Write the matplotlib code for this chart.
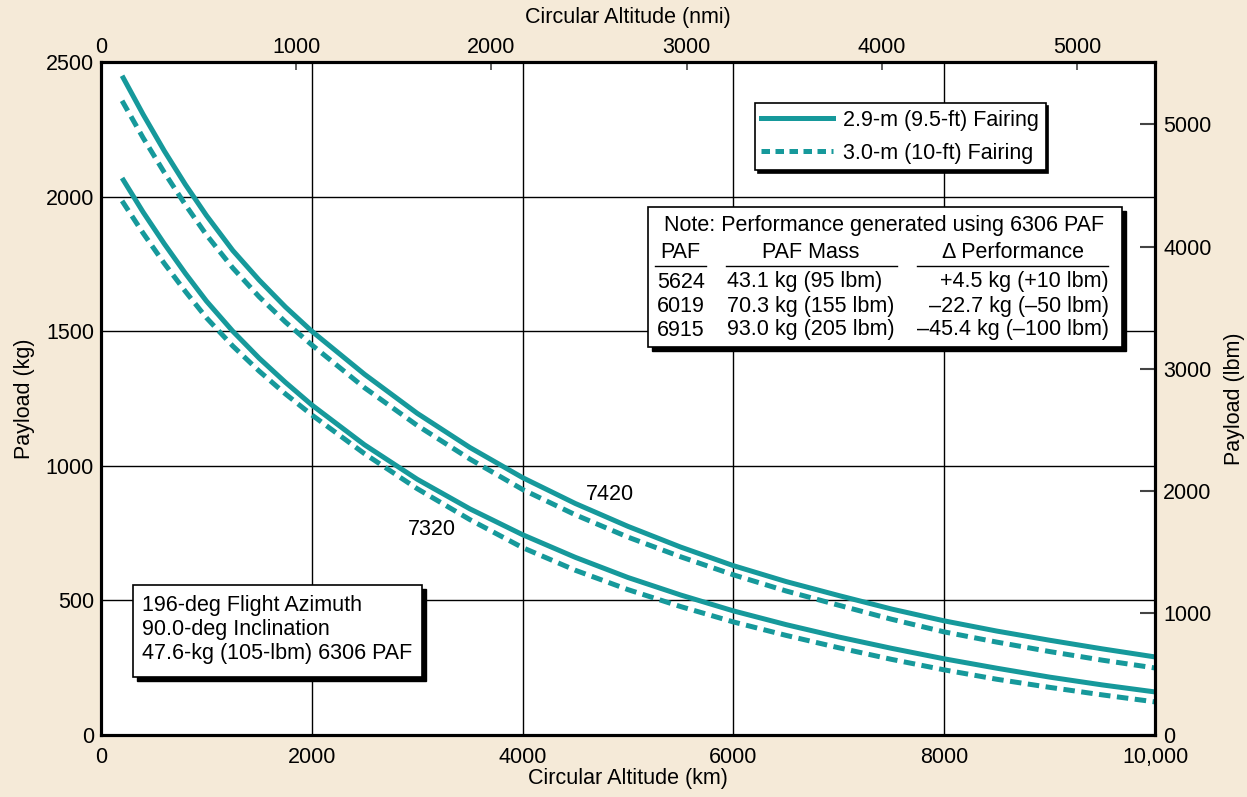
import numpy as np
import matplotlib
matplotlib.use('Agg')
import matplotlib.pyplot as plt
from matplotlib.patches import Rectangle
from matplotlib.lines import Line2D

plt.rcParams['font.family'] = ['Liberation Sans', 'DejaVu Sans']

# circular altitude (km) and payload (kg)
alt_km = [200, 400, 600, 800, 1000, 1250, 1500, 1750, 2000, 2500, 3000, 3500, 4000,
          4500, 5000, 5500, 6000, 6500, 7000, 7500, 8000, 8500, 9000, 9500, 10000]
p7420_29 = [2449, 2305, 2170, 2045, 1930, 1800, 1690, 1590, 1500, 1340, 1195, 1068, 956,
            860, 775, 698, 629, 570, 518, 468, 424, 386, 352, 320, 290]
p7420_30 = [2356, 2218, 2090, 1970, 1858, 1735, 1628, 1534, 1449, 1290, 1150, 1025, 912,
            818, 735, 662, 595, 535, 482, 430, 383, 345, 310, 278, 249]
p7320_29 = [2069, 1942, 1825, 1715, 1612, 1500, 1400, 1310, 1226, 1078, 950, 840, 744,
            660, 585, 520, 461, 410, 364, 322, 283, 248, 215, 186, 160]
p7320_30 = [1984, 1864, 1752, 1648, 1550, 1445, 1352, 1267, 1189, 1045, 915, 800, 696,
            612, 540, 477, 420, 370, 324, 281, 242, 207, 177, 149, 123]

km_ticks = [0, 2000, 4000, 6000, 8000, 10000]
km_labels = ['0', '2000', '4000', '6000', '8000', '10,000']
kg_ticks = [0, 500, 1000, 1500, 2000, 2500]
nmi_ticks = [0, 1000, 2000, 3000, 4000, 5000]
lbm_ticks = [0, 1000, 2000, 3000, 4000, 5000]

legend_labels = ['2.9-m (9.5-ft) Fairing', '3.0-m (10-ft) Fairing']
curve_labels = ['7420', '7320']
label_pos = [(4830, 893), (3140, 763)]

note_title = 'Note: Performance generated using 6306 PAF'
paf_ids = ['5624', '6019', '6915']
paf_mass = ['43.1 kg (95 lbm)', '70.3 kg (155 lbm)', '93.0 kg (205 lbm)']
paf_delta = ['+4.5 kg (+10 lbm)', '\u201322.7 kg (\u201350 lbm)', '\u201345.4 kg (\u2013100 lbm)']
mission_lines = ['196-deg Flight Azimuth', '90.0-deg Inclination', '47.6-kg (105-lbm) 6306 PAF']

teal = '#16999B'
bg = '#F5EAD8'
fs = 15.5

fig = plt.figure(figsize=(12.47, 7.97), dpi=100, facecolor=bg)
ax = fig.add_axes([101/1247, 1-735/797, 1054/1247, 673/797])
ax.set_facecolor('white')

ax.set_xlim(0, 10000)
ax.set_ylim(0, 2500)
ax.set_xticks(km_ticks)
ax.set_xticklabels(km_labels)
ax.set_yticks(kg_ticks)
ax.tick_params(axis='both', length=0, labelsize=fs)
ax.tick_params(axis='x', pad=8.5)
ax.tick_params(axis='y', pad=5)
ax.grid(True, color='black', lw=1.0)
ax.set_axisbelow(True)
for s in ax.spines.values():
    s.set_linewidth(2.2)
ax.set_xlabel('Circular Altitude (km)', fontsize=fs, labelpad=0)
ax.set_ylabel('Payload (kg)', fontsize=fs, labelpad=8)

dash = (2.3, 1.3)
ax.plot(alt_km, p7420_29, color=teal, lw=3.6, solid_capstyle='butt')
ax.plot(alt_km, p7420_30, color=teal, lw=3.6, dashes=dash)
ax.plot(alt_km, p7320_29, color=teal, lw=3.6, solid_capstyle='butt')
ax.plot(alt_km, p7320_30, color=teal, lw=3.6, dashes=dash)

for lab, (x, y) in zip(curve_labels, label_pos):
    ax.text(x, y, lab, fontsize=fs, ha='center', va='center')

# top axis in nmi
axt = ax.twiny()
axt.set_xlim(0, 10000/1.852)
axt.set_xticks(nmi_ticks)
axt.tick_params(axis='x', direction='in', length=6, width=1.2, color='#444444',
                labelsize=fs, pad=3)
axt.set_xlabel('Circular Altitude (nmi)', fontsize=fs, labelpad=10)
for s in axt.spines.values():
    s.set_linewidth(2.2)

# right axis in lbm
axr = ax.twinx()
axr.set_ylim(0, 2500*2.20462)
axr.set_yticks(lbm_ticks)
axr.tick_params(axis='y', direction='in', length=11, width=1.5, color='#444444',
                labelsize=fs, pad=6)
axr.set_ylabel('Payload (lbm)', fontsize=fs, labelpad=9)
for s in axr.spines.values():
    s.set_linewidth(2.2)

# legend
handles = [Line2D([], [], color=teal, lw=3.6),
           Line2D([], [], color=teal, lw=3.6, dashes=(1.7, 1.1))]
leg = ax.legend(handles, legend_labels, loc='upper left', bbox_to_anchor=(0.6205, 0.939),
                borderaxespad=0, fontsize=fs, frameon=True, fancybox=False,
                handlelength=3.3, handletextpad=0.5, labelspacing=0.58, borderpad=0.3,
                shadow={'color': 'black', 'alpha': 1})
leg.get_frame().set_edgecolor('black')
leg.get_frame().set_linewidth(1.2)
leg.set_zorder(10)


def px(x, y):
    return (x - 101) / 1054, (735 - y) / 673


def shadow_box(x0, y0, x1, y1):
    a0 = px(x0, y1)
    a1 = px(x1, y0)
    w, h = a1[0] - a0[0], a1[1] - a0[1]
    sx, sy = 4 / 1054, 4 / 673
    ax.add_patch(Rectangle((a0[0] + sx, a0[1] - sy), w, h, transform=ax.transAxes,
                           facecolor='black', edgecolor='black', zorder=8))
    ax.add_patch(Rectangle(a0, w, h, transform=ax.transAxes,
                           facecolor='white', edgecolor='black', lw=1.2, zorder=9))


# PAF note box
shadow_box(648, 207, 1122, 347)
ax.text(*px(884, 226), note_title, transform=ax.transAxes, fontsize=fs,
        ha='center', va='center', zorder=11)
ax.text(*px(680, 252), 'PAF', transform=ax.transAxes, fontsize=fs,
        ha='center', va='center', zorder=11)
ax.text(*px(811, 252), 'PAF Mass', transform=ax.transAxes, fontsize=fs,
        ha='center', va='center', zorder=11)
ax.text(*px(1013, 252), '\u0394 Performance', transform=ax.transAxes, fontsize=fs,
        ha='center', va='center', zorder=11)
for xa, xb in [(655, 706), (726, 897), (917, 1108)]:
    p0, p1 = px(xa, 266), px(xb, 266)
    ax.plot([p0[0], p1[0]], [p0[1], p1[1]], transform=ax.transAxes, color='black',
            lw=1.0, zorder=11)
for i, (pid, m, d) in enumerate(zip(paf_ids, paf_mass, paf_delta)):
    yy = 282 + 24 * i
    ax.text(*px(657, yy), pid, transform=ax.transAxes, fontsize=fs,
            ha='left', va='center', zorder=11)
    ax.text(*px(727, yy), m, transform=ax.transAxes, fontsize=fs,
            ha='left', va='center', zorder=11)
    ax.text(*px(1109, yy), d, transform=ax.transAxes, fontsize=fs,
            ha='right', va='center', zorder=11)

# mission box
shadow_box(133, 585, 422, 677)
for i, line in enumerate(mission_lines):
    ax.text(*px(142, 606 + 24 * i), line, transform=ax.transAxes, fontsize=fs,
            ha='left', va='center', zorder=11)

fig.savefig('out.png', dpi=100, facecolor=bg)
